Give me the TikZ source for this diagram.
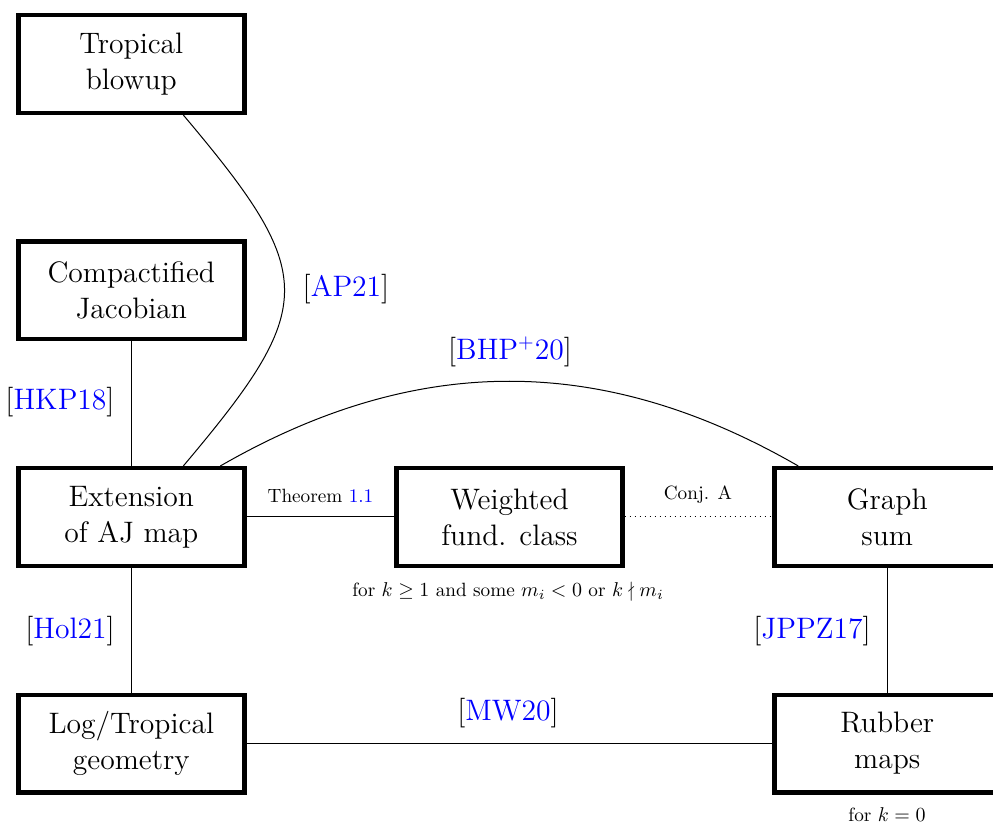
\documentclass[tikz,border=0pt]{standalone}
\usepackage{amssymb}
\usetikzlibrary{calc}
\newcommand\mycite[1]{[\textcolor{blue}{#1}]}
\begin{document}
\begin{tikzpicture}[x=0.5pt,y=-0.5pt,
  box/.style={draw, line width=2.2pt, minimum width=113pt, minimum height=48.8pt,
    align=center, font=\fontsize{14.8}{18}\selectfont, inner sep=0pt},
  citelabel/.style={font=\fontsize{14.8}{18}\selectfont, inner sep=0pt},
  smalllabel/.style={font=\fontsize{9.6}{11}\selectfont, inner sep=0pt},
  conn/.style={line width=0.5pt}]
\useasboundingbox (0,0) rectangle (993,824);
% boxes
\node[box] (tb)  at (131.3,64)    {Tropical\\blowup};
\node[box] (cj)  at (131.3,290.5) {Compactified\\Jacobian};
\node[box] (ext) at (131.3,517)   {Extension\\of AJ map};
\node[box] (wfc) at (509.5,517)   {Weighted\\fund. class};
\node[box] (gs)  at (887.3,517)   {Graph\\sum};
\node[box] (log) at (131.3,743.5) {Log/Tropical\\geometry};
\node[box] (rub) at (887.3,743.5) {Rubber\\maps};
% connectors
\draw[conn] ($(tb.south)+(52,0)$) .. controls +(135,160) and +(135,-160) .. ($(ext.north)+(52,0)$);
\draw[conn] (cj.south) -- (ext.north);
\draw[conn] ($(ext.north)+(89,0)$) .. controls +(196,-113) and +(-196,-113) .. ($(gs.north)+(-89,0)$);
\draw[conn] (ext.east) -- (wfc.west);
\draw[conn, dotted] (wfc.east) -- (gs.west);
\draw[conn] (ext.south) -- (log.north);
\draw[conn] (gs.south) -- (rub.north);
\draw[conn] (log.east) -- (rub.west);
% labels
\node[citelabel] (lap)  at (346,289) {\mycite{AP21}};
\node[citelabel] (lhkp) at (60,402)  {\mycite{HKP18}};
\node[citelabel] (lbhp) at (510,352) {\mycite{BHP$^+$20}};
\node[citelabel] (lhol) at (70,631)  {\mycite{Hol21}};
\node[citelabel] (ljp)  at (812,631) {\mycite{JPPZ17}};
\node[citelabel] (lmw)  at (508,713) {\mycite{MW20}};
\node[smalllabel] (lthm) at (320.5,496) {Theorem \textcolor{blue}{1.1}};
\node[smalllabel] (lcon) at (698,494.5) {Conj. A};
\node[smalllabel] (lfor) at (508,592) {for $k \geq 1$ and some $m_i < 0$ or $k \nmid m_i$};
\node[smalllabel] (lk0)  at (887,815) {for $k = 0$};
\end{tikzpicture}
\end{document}
